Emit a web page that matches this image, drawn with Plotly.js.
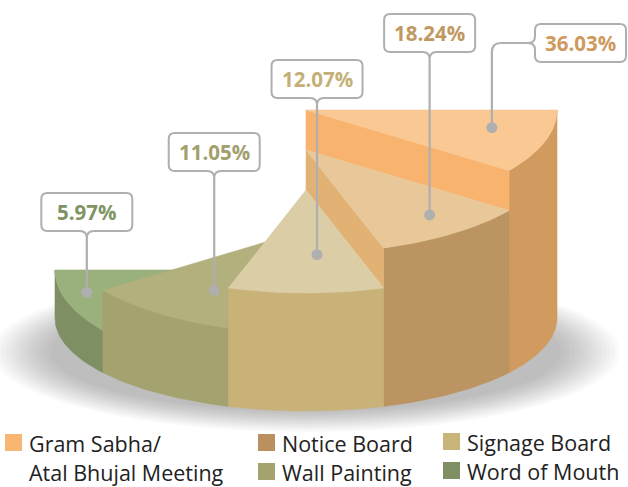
<!DOCTYPE html>
<html><head><meta charset="utf-8">
<script src="https://cdn.plot.ly/plotly-3.0.1.min.js"></script>
<style>html,body{margin:0;padding:0;background:#fff;}#chart{width:628px;height:487px;}</style>
</head><body><div id="chart"></div>
<script>
// ---- data ----
const categories = ["Gram Sabha/<br>Atal Bhujal Meeting", "Notice Board", "Signage Board", "Wall Painting", "Word of Mouth"];
const values = [36.03, 18.24, 12.07, 11.05, 5.97];
const valueLabels = values.map(v => v.toFixed(2) + "%");

// ---- style ----
const topColors = ["#F9C893", "#E8C799", "#DBCDA6", "#B2B07C", "#9AB07D"];
const sideColors = ["#D19A5E", "#BB9461", "#C9B278", "#A4A26E", "#7E8F63"];
const cutColors = ["#F8B46F", "#E2B274", "#D0BC88", "#A9A772", "#8A9C6C"];
const legendColors = ["#F9B673", "#B9905E", "#C9B57A", "#A4A26E", "#7E8F63"];
const textColors = ["#D0995E", "#BF9862", "#C4B077", "#A2A06C", "#7E9463"];

// ---- geometry / layout ----
const G = {cx: 306, rx: 251, ry: 103, topRefY: 307, baseY: 318, ryBase: 93, hMin: 37, step: 40};
const labelSpot = [{da: -5, f: 0.76}, {da: -2, f: 0.80}, {da: -4, f: 0.63}, {da: -4, f: 0.69}, {da: 4, f: 0.90}];
const callout = [{side: "left", x0: 535, y0: 24}, {y0: 14}, {y0: 60}, {y0: 133}, {y0: 193}];
const BOX = {w: 91, h: 38, r: 6, notch: 7};
const legendPos = [{x: 5, y: 443}, {x: 258, y: 443}, {x: 443, y: 442}, {x: 258, y: 472}, {x: 443, y: 471}];
const FONT = "Open Sans, Liberation Sans, sans-serif";

const n = values.length;
const rankOrder = values.map((v, i) => i).sort((a, b) => values[b] - values[a]);
const rank = new Array(n);
rankOrder.forEach((idx, r) => rank[idx] = r);
const H = values.map((v, i) => G.hMin + G.step * (n - 1 - rank[i]));
const span = 180 / n;
const rad = d => d * Math.PI / 180;

// point on plane of height h (h = 0 is the base plane)
function P(theta, h, f) {
  if (f === undefined) f = 1;
  const cy = h === 0 ? G.baseY : G.topRefY - h;
  const ry = h === 0 ? G.ryBase : G.ry;
  return [G.cx + f * G.rx * Math.cos(rad(theta)), cy + f * ry * Math.sin(rad(theta))];
}
function arc(a0, a1, h, steps) {
  const pts = [];
  for (let k = 0; k <= steps; k++) pts.push(P(a0 + (a1 - a0) * k / steps, h));
  return pts;
}
function poly(pts, color) {
  const x = pts.map(p => p[0]), y = pts.map(p => p[1]);
  x.push(x[0]); y.push(y[0]);
  return {type: "scatter", mode: "lines", x: x, y: y, fill: "toself", fillcolor: color,
          line: {color: color, width: 0.6}, hoverinfo: "skip", showlegend: false};
}

// faces per slice
const faces = [];
for (let i = 0; i < n; i++) {
  const a0 = i * span, a1 = (i + 1) * span;
  const list = [];
  const topArc = arc(a0, a1, H[i], 40);
  const baseArc = arc(a1, a0, 0, 40);
  list.push(poly(topArc.concat(baseArc), sideColors[i]));
  [[a0, i - 1], [a1, i + 1]].forEach(([tb, j]) => {
    if (j < 0 || j >= n) return;
    if (H[i] <= H[j]) return;
    const normalDir = (j > i) ? tb + 90 : tb - 90;
    if (Math.sin(rad(normalDir)) <= 0) return;
    list.push(poly([P(tb, H[i], 0), P(tb, H[i], 1), P(tb, H[j], 1), P(tb, H[j], 0)], cutColors[i]));
  });
  list.push(poly([P(0, H[i], 0)].concat(arc(a0, a1, H[i], 40)), topColors[i]));
  faces.push({i: i, depth: Math.sin(rad((a0 + a1) / 2)), list: list});
}
faces.sort((a, b) => a.depth - b.depth || a.i - b.i);
const traces = [];
faces.forEach(f => f.list.forEach(t => traces.push(t)));

// ---- shapes: shadow, leaders, dots, boxes ----
const shapes = [];
for (let k = 0; k < 14; k++) {
  const rx = 314 - k * 4.5, ry = 80 - k * 1.6, cy = 352;
  shapes.push({type: "circle", xref: "x", yref: "y", layer: "below", x0: G.cx - rx, x1: G.cx + rx,
               y0: cy - ry, y1: cy + ry, fillcolor: "rgba(60,60,60,0.022)", line: {width: 0}});
}
const annotations = [];
const GRAY = "#AFAFAF";
for (let i = 0; i < n; i++) {
  const a = (i + 0.5) * span + labelSpot[i].da;
  const d = P(a, H[i], labelSpot[i].f);
  const c = callout[i];
  let path, leader, tx, ty;
  const r = BOX.r, nt = BOX.notch;
  if (c.side === "left") {
    const x0 = c.x0, y0 = c.y0, x1 = x0 + BOX.w, y1 = y0 + BOX.h, yc = (y0 + y1) / 2;
    path = `M${x0 + r},${y0} L${x1 - r},${y0} Q${x1},${y0} ${x1},${y0 + r} L${x1},${y1 - r} Q${x1},${y1} ${x1 - r},${y1} ` +
           `L${x0 + r},${y1} Q${x0},${y1} ${x0},${y1 - r} L${x0},${yc + nt} Q${x0},${yc} ${x0 - nt},${yc} ` +
           `Q${x0},${yc} ${x0},${yc - nt} L${x0},${y0 + r} Q${x0},${y0} ${x0 + r},${y0} Z`;
    leader = `M${x0 - nt},${yc} L${d[0] + 9},${yc} Q${d[0]},${yc} ${d[0]},${yc + 9} L${d[0]},${d[1]}`;
    tx = (x0 + x1) / 2; ty = yc;
  } else {
    const xc = d[0], x0 = xc - BOX.w / 2, x1 = xc + BOX.w / 2, y0 = c.y0, y1 = y0 + BOX.h;
    path = `M${x0 + r},${y0} L${x1 - r},${y0} Q${x1},${y0} ${x1},${y0 + r} L${x1},${y1 - r} Q${x1},${y1} ${x1 - r},${y1} ` +
           `L${xc + nt},${y1} Q${xc},${y1} ${xc},${y1 + nt} Q${xc},${y1} ${xc - nt},${y1} ` +
           `L${x0 + r},${y1} Q${x0},${y1} ${x0},${y1 - r} L${x0},${y0 + r} Q${x0},${y0} ${x0 + r},${y0} Z`;
    leader = `M${xc},${y1 + nt} L${d[0]},${d[1]}`;
    tx = xc; ty = (y0 + y1) / 2;
  }
  shapes.push({type: "path", xref: "x", yref: "y", layer: "above", path: leader, line: {color: GRAY, width: 2.2}});
  shapes.push({type: "circle", xref: "x", yref: "y", layer: "above", x0: d[0] - 5.5, x1: d[0] + 5.5, y0: d[1] - 5.5, y1: d[1] + 5.5,
               fillcolor: GRAY, line: {width: 0}});
  shapes.push({type: "path", xref: "x", yref: "y", layer: "above", path: path, fillcolor: "#FFFFFF", line: {color: GRAY, width: 2}});
  annotations.push({xref: "x", yref: "y", x: tx, y: ty, text: valueLabels[i], showarrow: false,
                    xanchor: "center", yanchor: "middle",
                    font: {family: FONT, size: 20.5, color: textColors[i], weight: 700}});
}

// ---- legend ----
for (let i = 0; i < n; i++) {
  const L = legendPos[i];
  shapes.push({type: "rect", xref: "x", yref: "y", layer: "above", x0: L.x, x1: L.x + 17, y0: L.y - 9, y1: L.y + 8,
               fillcolor: legendColors[i], line: {width: 0}});
  const lines = categories[i].split("<br>");
  lines.forEach((t, k) => {
    annotations.push({xref: "x", yref: "y", x: L.x + 22, y: L.y + k * 29, text: t, showarrow: false,
                      xanchor: "left", yanchor: "middle", font: {family: FONT, size: 21.5, color: "#222222"}});
  });
}

const layout = {
  width: 628, height: 487, margin: {l: 0, r: 0, t: 0, b: 0},
  paper_bgcolor: "#FFFFFF", plot_bgcolor: "#FFFFFF", showlegend: false,
  xaxis: {range: [0, 628], visible: false, fixedrange: true},
  yaxis: {range: [487, 0], visible: false, fixedrange: true},
  shapes: shapes, annotations: annotations
};
Plotly.newPlot("chart", traces, layout, {staticPlot: true, displayModeBar: false});
</script></body></html>
